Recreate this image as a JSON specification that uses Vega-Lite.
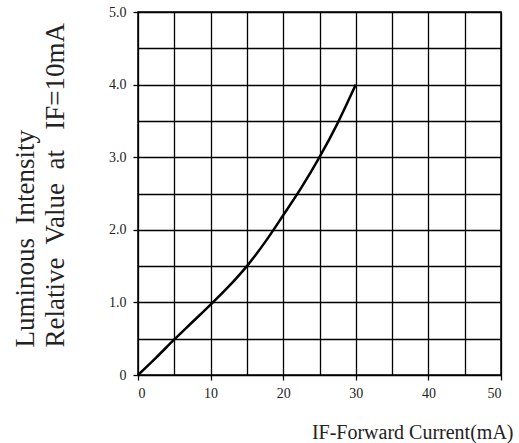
{
  "$schema": "https://vega.github.io/schema/vega-lite/v6.json",
  "width": 363,
  "height": 363,
  "autosize": {"type": "none"},
  "padding": {"left": 138, "top": 12, "right": 18, "bottom": 68},
  "background": "white",
  "config": {
    "view": {"stroke": "black", "strokeWidth": 1.5},
    "axis": {
      "domain": false,
      "grid": true,
      "gridColor": "black",
      "gridOpacity": 1,
      "gridWidth": 1.3,
      "tickColor": "black",
      "tickSize": 5,
      "tickWidth": 1.3,
      "labelFont": "Liberation Serif",
      "labelFontSize": 14,
      "labelColor": "#222",
      "titleFont": "Liberation Serif",
      "titleFontWeight": "normal",
      "titleColor": "#222"
    }
  },
  "data": {
    "values": [
      {"current": 0, "intensity": 0},
      {"current": 2.5, "intensity": 0.24},
      {"current": 5, "intensity": 0.49},
      {"current": 7.5, "intensity": 0.73},
      {"current": 10, "intensity": 0.97},
      {"current": 12.5, "intensity": 1.22},
      {"current": 15, "intensity": 1.5},
      {"current": 17.5, "intensity": 1.83},
      {"current": 20, "intensity": 2.2},
      {"current": 22.5, "intensity": 2.58},
      {"current": 25, "intensity": 3.0},
      {"current": 27.5, "intensity": 3.47},
      {"current": 30, "intensity": 4.0}
    ]
  },
  "mark": {"type": "line", "color": "black", "strokeWidth": 2.5, "interpolate": "monotone"},
  "encoding": {
    "x": {
      "field": "current",
      "type": "quantitative",
      "scale": {"domain": [0, 50], "nice": false, "zero": true},
      "axis": {
        "values": [0, 5, 10, 15, 20, 25, 30, 35, 40, 45, 50],
        "labelExpr": "datum.value % 10 === 0 ? datum.label : ''",
        "tickOpacity": {"condition": {"test": "datum.value % 10 === 0", "value": 1}, "value": 0},
        "labelPadding": 6,
        "title": "IF-Forward Current(mA)",
        "titleFontSize": 20,
        "titleAlign": "right",
        "titleAnchor": null,
        "titleX": 375,
        "titleY": 63,
        "titleBaseline": "alphabetic"
      }
    },
    "y": {
      "field": "intensity",
      "type": "quantitative",
      "scale": {"domain": [0, 5], "nice": false},
      "axis": {
        "values": [0, 0.5, 1, 1.5, 2, 2.5, 3, 3.5, 4, 4.5, 5],
        "labelExpr": "datum.value === 0 ? '0' : (datum.value % 1 === 0 ? format(datum.value, '.1f') : '')",
        "tickOpacity": {"condition": {"test": "datum.value % 1 === 0", "value": 1}, "value": 0},
        "labelPadding": 7,
        "title": ["Luminous\u00a0 Intensity", "Relative\u00a0 Value\u00a0 at\u00a0\u00a0 IF=10mA"],
        "titleFontSize": 27,
        "titleAngle": -90,
        "titleAlign": "left",
        "titleAnchor": null,
        "titleBaseline": "alphabetic",
        "titleLineHeight": 30,
        "titleX": -105,
        "titleY": 335
      }
    }
  }
}
